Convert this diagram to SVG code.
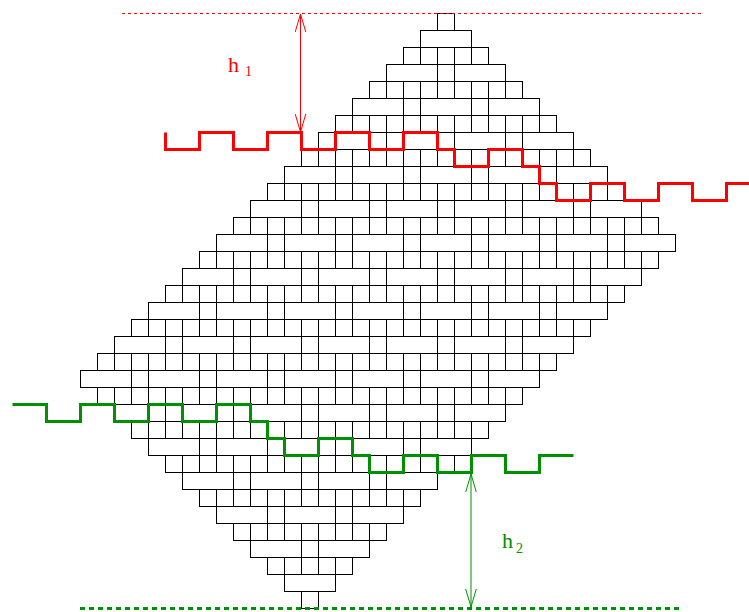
<svg xmlns="http://www.w3.org/2000/svg" width="749" height="612" viewBox="0 0 749 612">
<defs>
<style>
.row{fill:#fff;stroke:#000;stroke-width:1}
.sq{fill:none;stroke:#000;stroke-width:17;stroke-dasharray:1 16}
.br{fill:none;stroke:#000;stroke-width:17;stroke-dasharray:1 50 1 16}
.wr{fill:none;stroke:#ff0000;stroke-width:3}
.wg{fill:none;stroke:#009000;stroke-width:3}
.lbl{font-family:"Liberation Serif","Times New Roman",serif}
</style>
<marker id="ar" markerUnits="userSpaceOnUse" markerWidth="20" markerHeight="12" refX="18" refY="6" orient="auto-start-reverse">
<path d="M0 0.7L18 6L0 11.3" fill="none" stroke="#ff0000" stroke-width="1"/>
</marker>
<marker id="ag" markerUnits="userSpaceOnUse" markerWidth="20" markerHeight="12" refX="18" refY="6" orient="auto-start-reverse">
<path d="M0 0.7L18 6L0 11.3" fill="none" stroke="#009000" stroke-width="1"/>
</marker>
</defs>
<rect width="749" height="612" fill="#fff"/>
<g id="tiling">
<rect class="row" x="437.5" y="13.5" width="17" height="17"/><path class="sq" d="M437 22h18"/>
<rect class="row" x="420.5" y="30.5" width="51" height="17"/><path class="br" d="M420 39h52"/>
<rect class="row" x="403.5" y="47.5" width="85" height="17"/><path class="sq" d="M403 56h86"/>
<rect class="row" x="386.5" y="64.5" width="119" height="17"/><path class="br" d="M386 73h120"/>
<rect class="row" x="369.5" y="81.5" width="153" height="17"/><path class="sq" d="M369 90h154"/>
<rect class="row" x="352.5" y="98.5" width="187" height="17"/><path class="br" d="M352 107h188"/>
<rect class="row" x="335.5" y="115.5" width="221" height="17"/><path class="sq" d="M335 124h222"/>
<rect class="row" x="318.5" y="132.5" width="255" height="17"/><path class="br" d="M318 141h256"/>
<rect class="row" x="301.5" y="149.5" width="289" height="17"/><path class="sq" d="M301 158h290"/>
<rect class="row" x="284.5" y="166.5" width="323" height="17"/><path class="br" d="M284 175h324"/>
<rect class="row" x="267.5" y="183.5" width="357" height="17"/><path class="sq" d="M267 192h358"/>
<rect class="row" x="250.5" y="200.5" width="391" height="17"/><path class="br" d="M250 209h392"/>
<rect class="row" x="233.5" y="217.5" width="425" height="17"/><path class="sq" d="M233 226h426"/>
<rect class="row" x="216.5" y="234.5" width="459" height="17"/><path class="br" d="M216 243h460"/>
<rect class="row" x="199.5" y="251.5" width="459" height="17"/><path class="sq" d="M199 260h460"/>
<rect class="row" x="182.5" y="268.5" width="459" height="17"/><path class="br" d="M182 277h460"/>
<rect class="row" x="165.5" y="285.5" width="459" height="17"/><path class="sq" d="M165 294h460"/>
<rect class="row" x="148.5" y="302.5" width="459" height="17"/><path class="br" d="M148 311h460"/>
<rect class="row" x="131.5" y="319.5" width="459" height="17"/><path class="sq" d="M131 328h460"/>
<rect class="row" x="114.5" y="336.5" width="459" height="17"/><path class="br" d="M114 345h460"/>
<rect class="row" x="97.5" y="353.5" width="459" height="17"/><path class="sq" d="M97 362h460"/>
<rect class="row" x="80.5" y="370.5" width="459" height="17"/><path class="br" d="M80 379h460"/>
<rect class="row" x="97.5" y="387.5" width="425" height="17"/><path class="sq" d="M97 396h426"/>
<rect class="row" x="114.5" y="404.5" width="391" height="17"/><path class="br" d="M114 413h392"/>
<rect class="row" x="131.5" y="421.5" width="357" height="17"/><path class="sq" d="M131 430h358"/>
<rect class="row" x="148.5" y="438.5" width="323" height="17"/><path class="br" d="M148 447h324"/>
<rect class="row" x="165.5" y="455.5" width="289" height="17"/><path class="sq" d="M165 464h290"/>
<rect class="row" x="182.5" y="472.5" width="255" height="17"/><path class="br" d="M182 481h256"/>
<rect class="row" x="199.5" y="489.5" width="221" height="17"/><path class="sq" d="M199 498h222"/>
<rect class="row" x="216.5" y="506.5" width="187" height="17"/><path class="br" d="M216 515h188"/>
<rect class="row" x="233.5" y="523.5" width="153" height="17"/><path class="sq" d="M233 532h154"/>
<rect class="row" x="250.5" y="540.5" width="119" height="17"/><path class="br" d="M250 549h120"/>
<rect class="row" x="267.5" y="557.5" width="85" height="17"/><path class="sq" d="M267 566h86"/>
<rect class="row" x="284.5" y="574.5" width="51" height="17"/><path class="br" d="M284 583h52"/>
<rect class="row" x="301.5" y="591.5" width="17" height="17"/><path class="sq" d="M301 600h18"/>
</g>
<g id="connectors">
<line x1="122" y1="13.5" x2="702" y2="13.5" stroke="#ff0000" stroke-width="1" stroke-dasharray="3 3"/>
<line x1="80" y1="608.5" x2="680" y2="608.5" stroke="#009000" stroke-width="3" stroke-dasharray="5 4"/>
<path class="wr" d="M165.5 132.5V149.5H199.5V132.5H233.5V149.5H267.5V132.5H301.5V149.5H335.5V132.5H369.5V149.5H403.5V132.5H437.5V149.5H454.5V166.5H488.5V149.5H522.5V166.5H539.5V183.5H556.5V200.5H590.5V183.5H624.5V200.5H658.5V183.5H692.5V200.5H726.5V183.5H749"/>
<path class="wg" d="M12.5 404.5H46.5V421.5H80.5V404.5H114.5V421.5H148.5V404.5H182.5V421.5H216.5V404.5H250.5V421.5H267.5V438.5H284.5V455.5H318.5V438.5H352.5V455.5H369.5V472.5H403.5V455.5H437.5V472.5H471.5V455.5H505.5V472.5H539.5V455.5H573.5"/>
<line x1="300.5" y1="14" x2="300.5" y2="132" stroke="#ff0000" stroke-width="1" marker-start="url(#ar)" marker-end="url(#ar)"/>
<line x1="471" y1="474" x2="471" y2="607" stroke="#009000" stroke-width="1" marker-start="url(#ag)" marker-end="url(#ag)"/>
</g>
<g id="label-h1" class="lbl" fill="#ff0000"><text x="228" y="72" font-size="22">h</text><text x="245" y="76" font-size="14">1</text></g>
<g id="label-h2" class="lbl" fill="#009000"><text x="502" y="548" font-size="22">h</text><text x="516" y="553" font-size="14">2</text></g>
</svg>
